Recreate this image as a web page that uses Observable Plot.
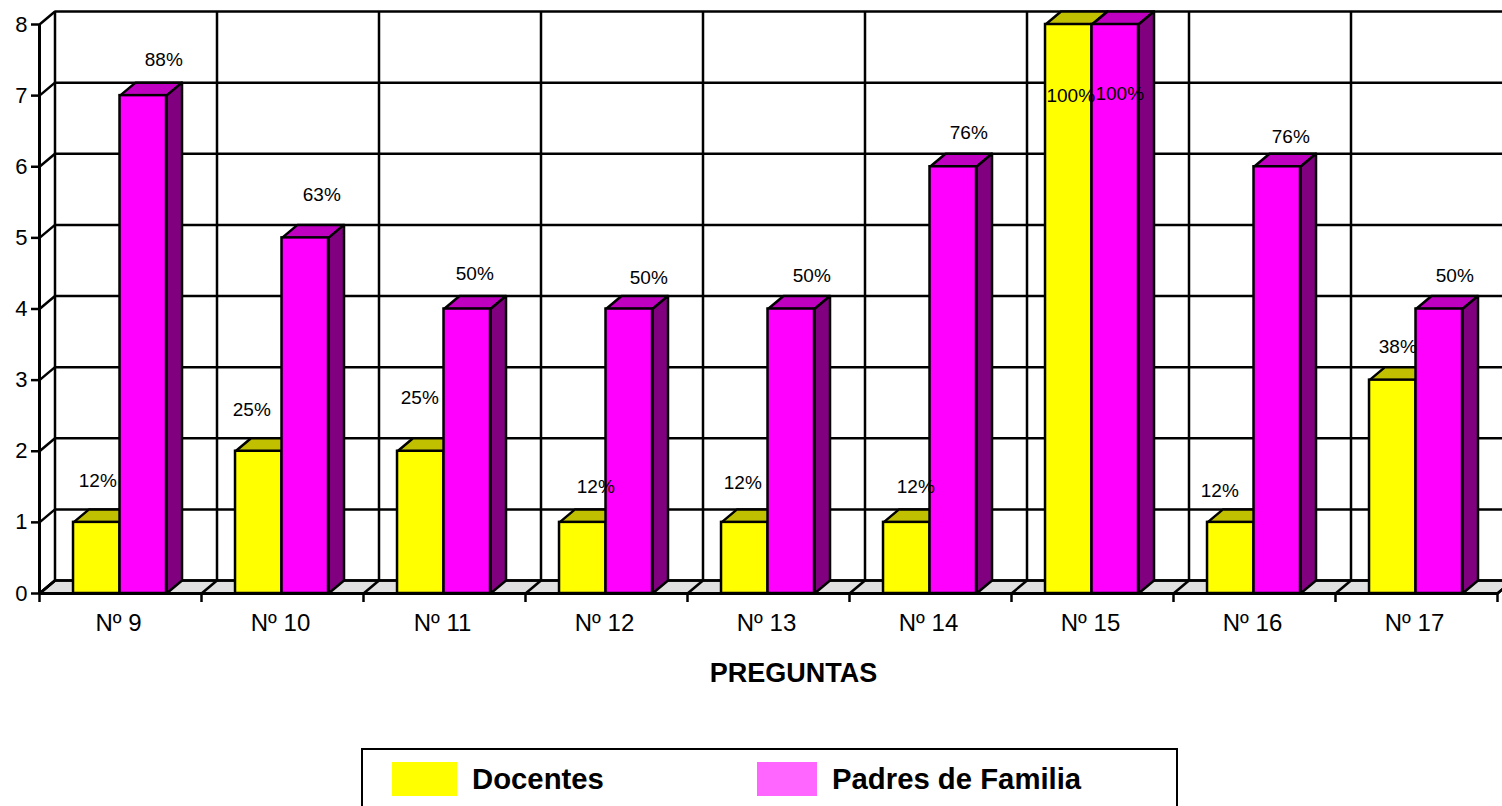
<!DOCTYPE html>
<html>
<head>
<meta charset="utf-8">
<script src="https://cdn.jsdelivr.net/npm/d3@7"></script>
<script src="https://cdn.jsdelivr.net/npm/@observablehq/plot@0.6"></script>
<style>
html,body{margin:0;padding:0;background:#fff;width:1502px;height:806px;overflow:hidden;font-family:"Liberation Sans",Arial,sans-serif}
#chart svg{display:block;background:#fff}
#legend{position:absolute;left:361px;top:748px;width:813px;height:80px;border:2.5px solid #000;background:#fff}
#legend .sw{position:absolute;top:12px;height:34px}
#legend .tx{position:absolute;top:12px;line-height:34px;font-size:29.3px;font-weight:bold;color:#000;white-space:nowrap}
</style>
</head>
<body>
<div id="chart"></div>
<div id="legend">
  <div class="sw" style="left:29px;width:65px;background:#ffff00"></div><div class="tx" style="left:109px">Docentes</div>
  <div class="sw" style="left:394px;width:60px;background:#ff66ff"></div><div class="tx" style="left:469px">Padres de Familia</div>
</div>
<script>
// Data
const preguntas = ["Nº 9","Nº 10","Nº 11","Nº 12","Nº 13","Nº 14","Nº 15","Nº 16","Nº 17"];
const docentes = [1,2,2,1,1,1,8,1,3];
const padres   = [7,5,4,4,4,6,8,6,4];
const docentesPct = ["12%","25%","25%","12%","12%","12%","100%","12%","38%"];
const padresPct   = ["88%","63%","50%","50%","50%","76%","100%","76%","50%"];
// hand-placed label offsets of the original, in pixels from the top centre of each bar
const docentesNudge = [[1,-41],[-7,-41],[-1,-53],[13,-35],[-2,-39],[9,-35],[2,71],[-11,-31],[5,-33]];
const padresNudge   = [[20.5,-36],[16.5,-43],[7.5,-35],[19.5,-31],[20.5,-33],[15.5,-34],[4.5,69],[13.5,-30],[15.5,-33]];

// Layout
const W = 1502, H = 745;
const ml = 39, mr = 5, mt = 24, y0 = 593;
const pxX = (W - ml - mr) / preguntas.length;   // px per category
const pxY = (y0 - mt) / 8;                      // px per unit
const DX = 15.5 / pxX, DY = 13 / pxY;           // depth of the 3D box in data units
const barStart = 0.21, barW = 0.287;
const n = preguntas.length;
const ys = d3.range(0, 9), xs = d3.range(0, n + 1);
const FS = "Liberation Sans";
const LW = 2.5;

function polys(list){ return list.flatMap((pts,k) => pts.map(([x,y]) => ({x,y,k}))); }
function topFace(x,w,v){ return [[x,v],[x+w,v],[x+w+DX,v+DY],[x+DX,v+DY]]; }
function sideFace(x,v){ return [[x,0],[x+DX,DY],[x+DX,v+DY],[x,v]]; }
const faceOpts = (fill) => ({x:"x",y:"y",z:"k",curve:"linear-closed",fill,stroke:"#000",strokeWidth:LW,strokeLinejoin:"round"});

const docRects = docentes.map((v,i)=>({x1:i+barStart,x2:i+barStart+barW,y:v}));
const padRects = padres.map((v,i)=>({x1:i+barStart+barW,x2:i+barStart+2*barW,y:v}));
const docTop = polys(docRects.map(d=>topFace(d.x1,barW,d.y)));
const padTop = polys(padRects.map(d=>topFace(d.x1,barW,d.y)));
const padSide = polys(padRects.map(d=>sideFace(d.x2,d.y)));
const floor = polys([[[0,0],[n,0],[n+DX,DY],[DX,DY]]]);

const labels = [
  ...docentesPct.map((t,i)=>({t, x:i+barStart+barW/2+docentesNudge[i][0]/pxX, y:docentes[i]-docentesNudge[i][1]/pxY})),
  ...padresPct.map((t,i)=>({t, x:i+barStart+barW*1.5+padresNudge[i][0]/pxX, y:padres[i]-padresNudge[i][1]/pxY}))
];

const plot = Plot.plot({
  width: W, height: H,
  marginLeft: ml, marginRight: mr, marginTop: mt, marginBottom: H - y0,
  x: {type:"linear", domain:[0,n]},
  y: {type:"linear", domain:[0,8]},
  style: {fontFamily: FS, color:"#000", background:"#fff", overflow:"hidden"},
  marks: [
    Plot.line(floor, {x:"x",y:"y",z:"k",curve:"linear-closed",fill:"#e0e0e0",stroke:"#000",strokeWidth:LW}),
    Plot.ruleY(ys, {y:d=>d+DY, x1:DX, x2:n+DX, stroke:"#000", strokeWidth:LW}),
    Plot.ruleX(xs, {x:d=>d+DX, y1:DY, y2:8+DY, stroke:"#000", strokeWidth:LW}),
    Plot.link(ys, {x1:0, y1:d=>d, x2:DX, y2:d=>d+DY, stroke:"#000", strokeWidth:LW}),
    Plot.link(xs, {x1:d=>d, y1:0, x2:d=>d+DX, y2:DY, stroke:"#000", strokeWidth:LW}),
    Plot.line(docTop, faceOpts("#c0c000")),
    Plot.rect(docRects, {x1:"x1",x2:"x2",y1:0,y2:"y",fill:"#ffff00",stroke:"#000",strokeWidth:LW}),
    Plot.line(padTop, faceOpts("#c000c0")),
    Plot.line(padSide, faceOpts("#800080")),
    Plot.rect(padRects, {x1:"x1",x2:"x2",y1:0,y2:"y",fill:"#ff00ff",stroke:"#000",strokeWidth:LW}),
    Plot.ruleY([0], {stroke:"#000", strokeWidth:3}),
    Plot.ruleX([0], {y1:0, y2:8, stroke:"#000", strokeWidth:3}),
    Plot.axisY({ticks:ys, tickFormat:d=>d, tickSize:8, tickPadding:4, fontSize:22, strokeWidth:LW, label:null}),
    Plot.axisX({ticks:xs, tickFormat:()=>"", tickSize:9, strokeWidth:LW, label:null}),
    Plot.axisX({ticks:xs.slice(0,-1).map(d=>d+0.5), tickFormat:d=>preguntas[Math.floor(d)], tickSize:0, tickPadding:20, fontSize:24, dx:-2, label:null}),
    Plot.text(labels, {x:"x",y:"y",text:"t",fontSize:19,fill:"#000"}),
    Plot.text(["PREGUNTAS"], {frameAnchor:"bottom", dx:25, dy:88, fontSize:27, fontWeight:"bold", fill:"#000"})
  ]
});
document.getElementById("chart").appendChild(plot);
</script>
</body>
</html>
